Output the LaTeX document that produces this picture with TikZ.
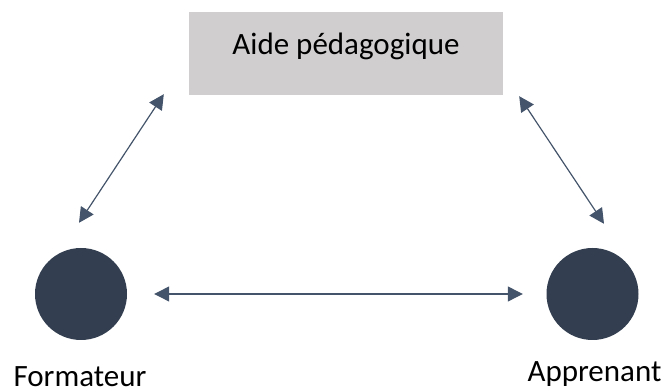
\documentclass[tikz,border=0pt]{standalone}
\usepackage{fontspec}
\setmainfont{Carlito}
\usetikzlibrary{arrows.meta}

\definecolor{boxgray}{RGB}{208,206,206}
\definecolor{slate}{RGB}{51,63,80}
\definecolor{arrowblue}{RGB}{68,84,106}

\tikzstyle{person} = [circle,fill=slate,minimum size=92pt,inner sep=0pt]
\tikzstyle{support} = [rectangle,fill=boxgray,minimum width=314pt,minimum height=83pt,text height=12pt,text depth=9pt]
\tikzstyle{rolelabel} = [anchor=base,inner sep=0pt]
\tikzstyle{link} = [arrowblue,line width=1.2pt,{Triangle[length=15pt,width=15pt]}-{Triangle[length=15pt,width=15pt]}]

\begin{document}
\begin{tikzpicture}[x=1pt,y=1pt,font=\fontsize{31}{37}\selectfont]
	\useasboundingbox (0,0) rectangle (665,390);

	\node[support] (aide) at (346,336.5) {Aide pédagogique};
	\node[person] (formateur) at (81,96) {};
	\node[person] (apprenant) at (592.5,96) {};
	\node[rolelabel] (nformateur) at (80,3) {Formateur};
	\node[rolelabel] (napprenant) at (594.5,8) {Apprenant};
	
	\draw[link] ([shift={(-2,25)}]formateur.north) -- ([shift={(-25,1)}]aide.south west);
	\draw[link] ([shift={(11.5,24)}]apprenant.north) -- ([shift={(16,-1)}]aide.south east);
	\draw[link, shorten <=27pt, shorten >=23.5pt] (formateur.east) -- (apprenant.west);
\end{tikzpicture}
\end{document}
